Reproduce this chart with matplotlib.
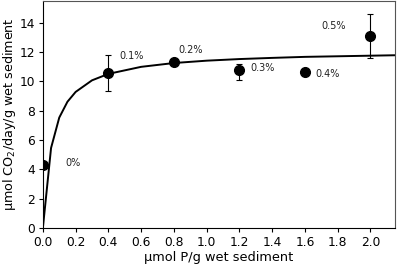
import matplotlib
matplotlib.use("Agg")
import matplotlib.pyplot as plt

# measured points
p_added = [0.0, 0.4, 0.8, 1.2, 1.6, 2.0]
co2_rate = [4.3, 10.55, 11.3, 10.75, 10.65, 13.05]
err_lo = [0.0, 1.25, 0.0, 0.7, 0.0, 1.5]
err_hi = [0.0, 1.25, 0.0, 0.45, 0.0, 1.5]
pct_labels = ["0%", "0.1%", "0.2%", "0.3%", "0.4%", "0.5%"]
label_x = [0.135, 0.465, 0.826, 1.266, 1.664, 1.70]
label_y = [4.4, 11.7, 12.1, 10.9, 10.5, 13.75]

# fitted saturation curve
fit_x = [0, 0.05, 0.1, 0.15, 0.2, 0.3, 0.4, 0.6, 0.8, 1.0, 1.2, 1.4, 1.6, 1.8, 2.0, 2.15]
fit_y = [0, 5.45, 7.52, 8.60, 9.27, 10.06, 10.50, 10.98, 11.24, 11.40, 11.51, 11.59,
         11.66, 11.70, 11.74, 11.77]

fig = plt.figure(figsize=(3.97, 2.70), dpi=100)
ax = fig.add_axes([0.108, 0.156, 0.887, 0.842])

ax.plot(fit_x, fit_y, color="black", lw=1.4, zorder=2)
ax.errorbar(p_added, co2_rate, yerr=[err_lo, err_hi], fmt="o", color="black",
            ms=7, elinewidth=0.8, capsize=2, capthick=0.8, zorder=3)
for lx, ly, t in zip(label_x, label_y, pct_labels):
    ax.text(lx, ly, t, fontsize=7, color="#222222", ha="left", va="center")

ax.set_xlim(0, 2.15)
ax.set_ylim(0, 15.5)
ax.set_xticks([0.0, 0.2, 0.4, 0.6, 0.8, 1.0, 1.2, 1.4, 1.6, 1.8, 2.0])
ax.set_xticklabels(["0.0", "0.2", "0.4", "0.6", "0.8", "1.0", "1.2", "1.4", "1.6", "1.8", "2.0"])
ax.set_yticks([0, 2, 4, 6, 8, 10, 12, 14])
ax.tick_params(direction="out", length=3, width=0.8, labelsize=8.8, pad=2.5)
ax.set_xlabel("μmol P/g wet sediment", fontsize=9.3, labelpad=2)
ax.set_ylabel("μmol CO$_2$/day/g wet sediment", fontsize=9.2)
ax.yaxis.set_label_coords(-0.07, 0.5)
for s in ["top", "right"]:
    ax.spines[s].set_color("#555555")
fig.savefig("out.png", dpi=100)
